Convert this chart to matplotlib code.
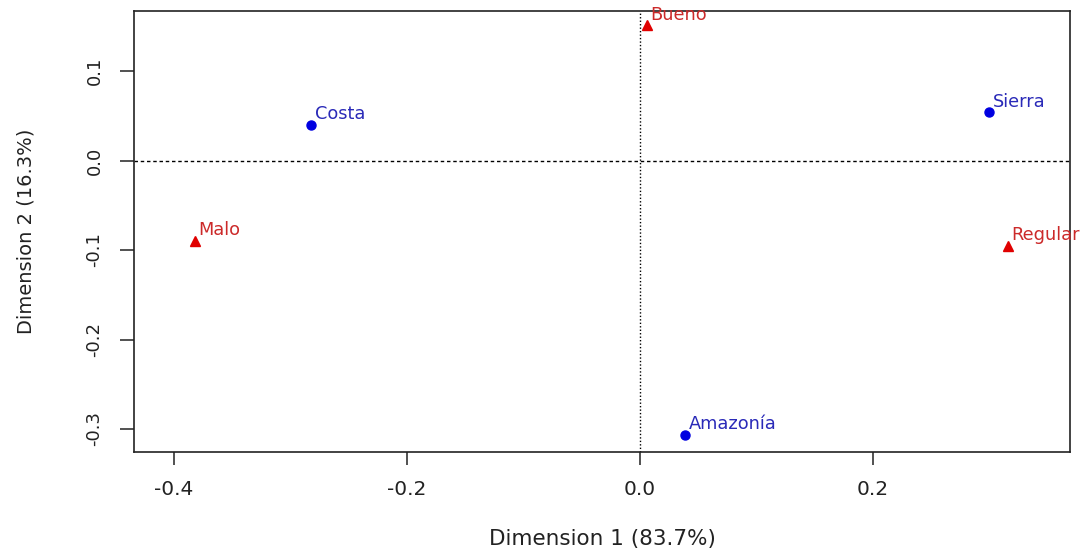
import matplotlib
matplotlib.use("Agg")
import matplotlib.pyplot as plt

plt.rcParams['font.family'] = ['DejaVu Sans']

# Row points (regions) - blue dots
row_labels = ["Costa", "Sierra", "Amazonía"]
row_x = [-0.282, 0.300, 0.0386]
row_y = [0.0397, 0.054, -0.3067]

# Column points (rating) - red triangles
col_labels = ["Bueno", "Malo", "Regular"]
col_x = [0.0057, -0.382, 0.316]
col_y = [0.151, -0.090, -0.0955]

x_ticks = [-0.4, -0.2, 0.0, 0.2]
x_ticklabels = ["-0.4", "-0.2", "0.0", "0.2"]
y_ticks = [-0.3, -0.2, -0.1, 0.0, 0.1]
y_ticklabels = ["-0.3", "-0.2", "-0.1", "0.0", "0.1"]

xlabel = "Dimension 1 (83.7%)"
ylabel = "Dimension 2 (16.3%)"

fig = plt.figure(figsize=(10.89, 5.54), dpi=100)
ax = fig.add_axes([134/1089, 1-452/554, (1070-134)/1089, (452-11)/554])

ax.axhline(0, color="black", lw=1.0, ls=(0, (2.5, 2)), zorder=1)
ax.axvline(0, color="black", lw=1.0, ls=(0, (1, 1.5)), zorder=1)

blue = "#0000E0"
red = "#E00000"
ax.plot(row_x, row_y, 'o', color=blue, ms=6.5, mec=blue, zorder=3, clip_on=False)
ax.plot(col_x, col_y, '^', color=red, ms=7.5, mec=red, zorder=3, clip_on=False)

for lab, x, y in zip(row_labels, row_x, row_y):
    ax.annotate(lab, (x, y), xytext=(2.5, 4), textcoords="offset points",
                color="#2a2ab8", fontsize=12.8, ha="left", va="baseline",
                annotation_clip=False)
for lab, x, y in zip(col_labels, col_x, col_y):
    ax.annotate(lab, (x, y), xytext=(2.5, 4), textcoords="offset points",
                color="#cc2a2a", fontsize=12.8, ha="left", va="baseline",
                annotation_clip=False)

ax.set_xlim((134-640)/1165, (1070-640)/1165)
ax.set_ylim(-(452-160.5)/895, (160.5-11)/895)

ax.set_xticks(x_ticks)
ax.set_xticklabels(x_ticklabels)
ax.set_yticks(y_ticks)
ax.set_yticklabels(y_ticklabels, rotation=90, va="center")

ax.tick_params(axis="x", length=9, width=1.1, pad=11, labelsize=14.5, colors="#222222")
ax.tick_params(axis="y", length=10, width=1.1, pad=12, labelsize=13, colors="#222222")
for s in ax.spines.values():
    s.set_linewidth(1.2)
    s.set_color("#222222")

fig.text(602/1089, 1-539/554, xlabel, ha="center", va="center", fontsize=15.5, color="#222222")
fig.text(26/1089, 1-231/554, ylabel, ha="center", va="center", rotation=90, fontsize=14, color="#222222")

fig.savefig("out.png", dpi=100)
